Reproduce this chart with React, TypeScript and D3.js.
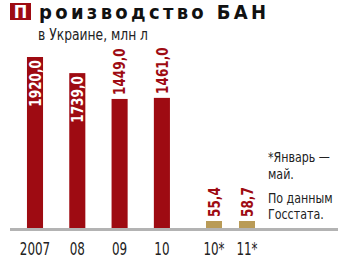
import React from "react";
import * as d3 from "d3";

const fullYears = ["2007", "08", "09", "10"];
const fullValues = [1920.0, 1739.0, 1449.0, 1461.0];
const partYears = ["10*", "11*"];
const partValues = [55.4, 58.7];
const titleFirst = "П";
const titleRest = "роизводство БАН";
const subtitle = "в Украине, млн л";
const notes1 = ["*Январь —", "май."];
const notes2 = ["По данным", "Госстата."];

const W = 350;
const H = 267;
const RED = "#9e0b12";
const TAN = "#b99b57";
const FONT = "'DejaVu Sans Condensed', 'DejaVu Sans', sans-serif";

export default function App() {
  const baseY = 228;
  const y = d3.scaleLinear().domain([0, 1920]).range([baseY, 57]);
  const x1 = d3.scaleBand<string>().domain(fullYears).range([13.85, 183.05]).paddingInner(0.62).paddingOuter(0.31);
  const x2 = d3.scaleBand<string>().domain(partYears).range([197.5, 263.5]).paddingInner(0.515).paddingOuter(0.2575);
  const fmt = (v: number) => v.toFixed(1).replace(".", ",");
  const minH = 7;

  const bars = [
    ...fullYears.map((c, i) => ({ c, v: fullValues[i], x: x1(c)!, w: x1.bandwidth(), color: RED })),
    ...partYears.map((c, i) => ({ c, v: partValues[i], x: x2(c)!, w: x2.bandwidth(), color: TAN })),
  ];

  return (
    <svg width={W} height={H} style={{ position: "absolute", left: 0, top: 0, background: "#fff" }}>
      <rect x={10} y={3} width={21} height={17} fill={RED} />
      <text x={20.5} y={18} fill="#fff" fontFamily={FONT} fontWeight="bold" fontSize={18} textAnchor="middle">
        {titleFirst}
      </text>
      <text x={39} y={19} fill="#111" fontFamily={FONT} fontWeight="bold" fontSize={20} textLength={227} lengthAdjust="spacing">
        {titleRest}
      </text>
      <text x={38} y={40} fill="#222" fontFamily={FONT} fontSize={16} textLength={110} lengthAdjust="spacingAndGlyphs">
        {subtitle}
      </text>

      {bars.map((b) => {
        const top = Math.min(y(b.v), baseY - minH);
        const cx = b.x + b.w / 2;
        const inside = b.v > 1600;
        return (
          <g key={b.c}>
            <rect x={b.x} y={top} width={b.w} height={baseY - top} fill={b.color} />
            <text
              transform={`translate(${cx},${inside ? top + 3 : top - 4}) rotate(-90) scale(0.84,1)`}
              textAnchor={inside ? "end" : "start"}
              dy="0.36em"
              fill={inside ? "#fff" : RED}
              fontFamily={FONT}
              fontWeight="bold"
              fontSize={16}
            >
              {fmt(b.v)}
            </text>
            <text transform={`translate(${cx},255) scale(0.78,1)`} textAnchor="middle" fill="#222" fontFamily={FONT} fontSize={17}>
              {b.c}
            </text>
          </g>
        );
      })}

      <line x1={10} x2={338} y1={baseY + 1.5} y2={baseY + 1.5} stroke="#b3b3b3" strokeWidth={3} />

      {notes1.map((t, i) => (
        <text key={t} transform={`translate(268,${162 + i * 17}) scale(0.88,1)`} fill="#222" fontFamily={FONT} fontSize={14}>
          {t}
        </text>
      ))}
      {notes2.map((t, i) => (
        <text key={t} transform={`translate(268,${203 + i * 16}) scale(0.88,1)`} fill="#222" fontFamily={FONT} fontSize={14}>
          {t}
        </text>
      ))}
    </svg>
  );
}
